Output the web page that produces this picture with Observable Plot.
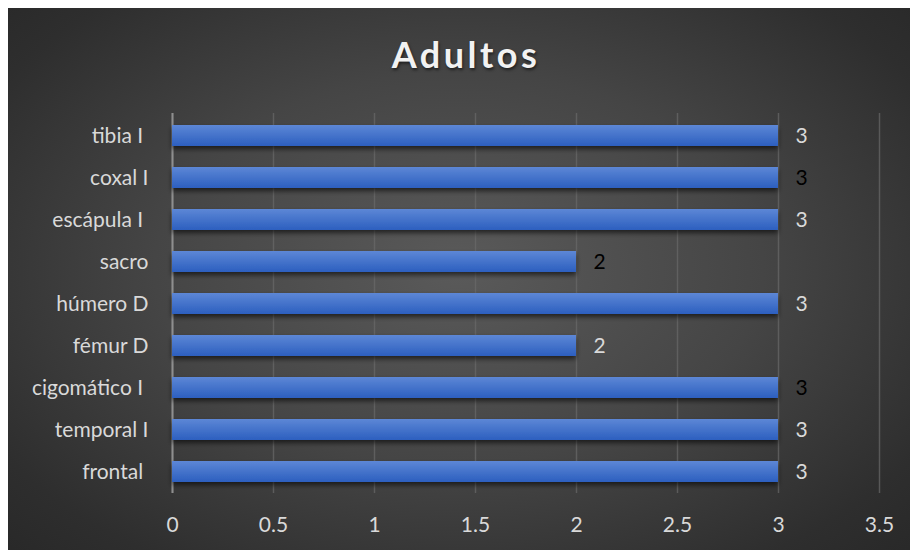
<!DOCTYPE html>
<html>
<head>
<meta charset="utf-8">
<script src="https://cdn.jsdelivr.net/npm/d3@7"></script>
<script src="https://cdn.jsdelivr.net/npm/@observablehq/plot@0.6"></script>
<style>
  html, body { margin: 0; padding: 0; background: #ffffff; }
  #chart {
    position: absolute; left: 8px; top: 8px; width: 902px; height: 542px;
    background: radial-gradient(ellipse 75% 80% at 50% 48%, #5a5a5a 0%, #454545 45%, #2e2e2e 80%, #262626 100%);
    overflow: hidden;
  }
  #title {
    height: 97px; box-sizing: border-box; padding-top: 26px; padding-left: 14px;
    text-align: center; font-family: Lato, "Open Sans", sans-serif; font-weight: 700;
    font-size: 36px; letter-spacing: 3.5px; color: #f2f2f2; line-height: 40px;
    text-shadow: 1px 2px 3px rgba(0,0,0,0.55);
  }
  #chart svg text { white-space: pre; }
</style>
</head>
<body>
<div id="chart"><div id="title">Adultos</div></div>
<script>
const categories = ["tibia I ", "coxal I", "escápula I ", "sacro", "húmero D", "fémur D", "cigomático I ", "temporal I", "frontal "];
const values = [3, 3, 3, 2, 3, 2, 3, 3, 3];
const xTicks = [0, 0.5, 1, 1.5, 2, 2.5, 3, 3.5];
const labelColors = ["#d9d9d9", "#000000", "#d9d9d9", "#000000", "#d9d9d9", "#d9d9d9", "#000000", "#d9d9d9", "#d9d9d9"];

const data = categories.map((c, i) => ({category: c, value: values[i], labelColor: labelColors[i]}));

const plot = Plot.plot({
  width: 902,
  height: 445,
  marginTop: 8,
  marginBottom: 57,
  marginLeft: 164,
  marginRight: 31,
  style: {background: "transparent", color: "#d9d9d9", fontFamily: "Lato, 'Open Sans', sans-serif"},
  x: {domain: [0, 3.5], ticks: xTicks, label: null},
  y: {domain: categories, paddingInner: 0.5, paddingOuter: 0.25, label: null},
  marks: [
    Plot.gridX(xTicks, {stroke: "#6a6a6a", strokeOpacity: 0.7, strokeWidth: 1.5}),
    Plot.ruleX([0], {stroke: "#8f8f8f", strokeWidth: 2}),
    Plot.barX(data, {x: "value", y: "category", fill: "url(#barGrad)"}),
    Plot.text(data, {x: "value", y: "category", text: d => String(d.value), textAnchor: "start", dx: 17, fill: "labelColor", fontSize: 21}),
    Plot.axisX({ticks: xTicks, tickSize: 0, tickPadding: 24, fontSize: 21, tickFormat: d => String(d), label: null}),
    Plot.axisY({tickSize: 0, tickPadding: 24, fontSize: 21, label: null})
  ]
});

const svg = d3.select(plot);
const defs = svg.insert("defs", ":first-child");
const g = defs.append("linearGradient").attr("id", "barGrad").attr("x1", 0).attr("y1", 0).attr("x2", 0).attr("y2", 1);
g.append("stop").attr("offset", "0%").attr("stop-color", "#5d87d6");
g.append("stop").attr("offset", "100%").attr("stop-color", "#2c5fbf");
const f = defs.append("filter").attr("id", "barShadow").attr("x", "-5%").attr("y", "-30%").attr("width", "110%").attr("height", "180%");
f.append("feDropShadow").attr("dx", 0).attr("dy", 3).attr("stdDeviation", 2.5).attr("flood-color", "#000").attr("flood-opacity", 0.6);
svg.selectAll("g[aria-label='bar']").attr("filter", "url(#barShadow)");

document.getElementById("chart").appendChild(plot);
</script>
</body>
</html>
